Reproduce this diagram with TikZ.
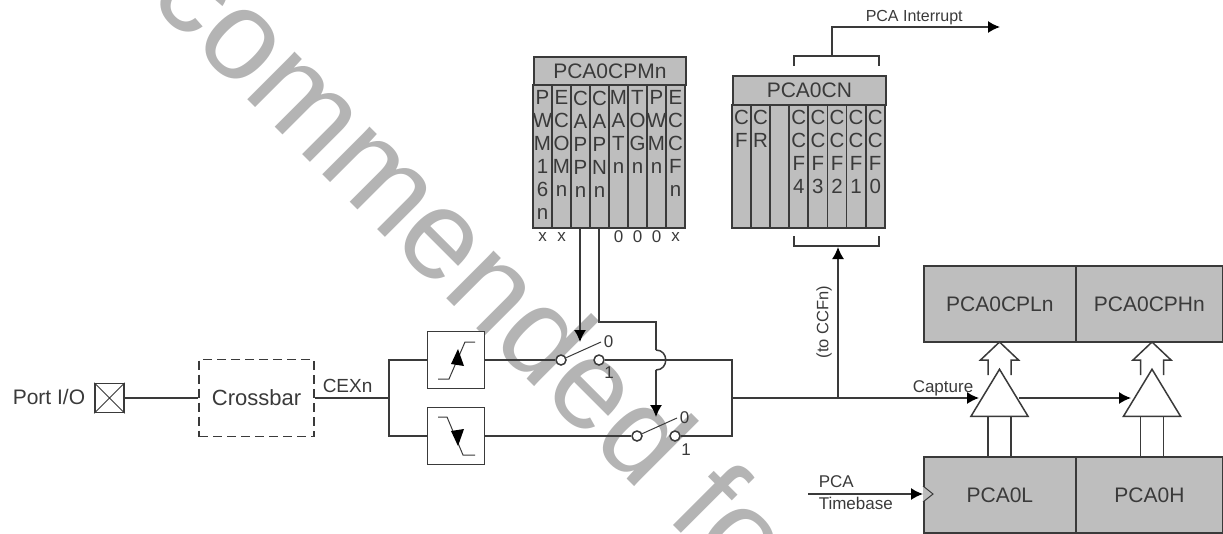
\documentclass[tikz,border=0pt]{standalone}
\usepackage{fontspec}
\setmainfont{Liberation Sans}
\usetikzlibrary{positioning,arrows.meta,calc,shapes.geometric}
\definecolor{regfill}{HTML}{BEBEBE}
\definecolor{wire}{HTML}{3A3A3A}
\definecolor{stamp}{HTML}{B4B4B4}

\begin{document}
\begin{tikzpicture}[
  x=1pt,y=-1pt,
  line width=1.5pt,draw=wire,
  lbl/.style={text=wire,inner sep=0pt,font=\fontsize{21}{23}\selectfont},
  small/.style={text=wire,inner sep=0pt,font=\fontsize{17}{19}\selectfont},
  reghead/.style={draw=wire,line width=1.8pt,fill=regfill,anchor=north west,inner sep=0pt,text=wire,font=\fontsize{21}{23}\selectfont},
  regcol/.style={draw=wire,line width=1.8pt,fill=regfill,anchor=north,minimum width=19,minimum height=143,inner sep=0pt},
  coltxt/.style={anchor=north,align=center,text=wire,inner sep=0pt,font=\fontsize{20.5}{23}\selectfont},
  edgebox/.style={draw=wire,fill=white,minimum size=57,inner sep=0pt},
  contact/.style={draw=wire,fill=white,circle,minimum size=10,inner sep=0pt},
  gate/.style={draw=wire,fill=white,isosceles triangle,isosceles triangle stretches,shape border rotate=90,minimum width=57,minimum height=47,inner sep=0pt,anchor=lower side},
  arr/.style={-{Latex[length=12pt,width=12pt,color=black]},draw=wire}
]
\useasboundingbox (0,0) rectangle (1223,533);
% grey stamp lies under the drawing
\node[text=stamp,rotate=-45,anchor=base west,inner sep=0pt,font=\fontsize{127}{127}\selectfont] (stamptext) at (146,-2) {commended fo};

% left side
\node[lbl,anchor=west] (portlbl) at (12,397) {Port I/O};
\node[draw=wire,minimum size=29,inner sep=0pt] (port) at (109.5,398) {};
\draw[line width=0.9pt] (port.north west) -- (port.south east) (port.north east) -- (port.south west);
\node[draw=wire,line width=1.8pt,dash pattern=on 9pt off 5pt,minimum width=115,minimum height=77,inner sep=0pt,text=wire,font=\fontsize{22}{24}\selectfont] (cross) at (256.5,398) {Crossbar};
\node[lbl,font=\fontsize{19}{21}\selectfont,anchor=west] (cexlbl) at (322,386) {CEXn};
\coordinate (cexj) at (389,398);
\draw (port) -- (cross);
\draw (cross) -- (cexj);

% edge boxes
\node[edgebox] (rise) at (456,360) {};
\node[edgebox] (fall) at (456,436) {};
\draw (cexj) |- (rise);
\draw (cexj) |- (fall);
\draw[line width=1pt] (438,379) -- (449,379) -- (465,342) -- (475,342);
\draw[line width=1pt] (438,417) -- (447,417) -- (463,455) -- (475,455);
\fill[black] (458,349) -- (464,366) -- (451,364) -- cycle;
\fill[black] (458,446) -- (464,429) -- (451,431) -- cycle;

% switches
\node[contact] (swaa) at (561,360) {};
\node[contact] (swab) at (599,360) {};
\node[contact] (swba) at (637,436) {};
\node[contact] (swbb) at (675,436) {};
\coordinate (swat) at (601,342);
\coordinate (swbt) at (677,418);
\node[small,right=2pt of swat] (swao) {0};
\node[small] (swai) at (609,373) {1};
\node[small,right=2pt of swbt] (swbo) {0};
\node[small] (swbi) at (686,450) {1};
\draw[line width=1pt] (swaa) -- (swat);
\draw[line width=1pt] (swba) -- (swbt);
\coordinate (mergej) at (732,398);
\draw (rise) -- (swaa);
\draw (fall) -- (swba);
\draw (swab) -| (mergej);
\draw (swbb) -| (mergej);

% PCA0CPMn
\node[reghead,minimum width=152,minimum height=28] (cpmhead) at (533,56) {PCA0CPMn};
\foreach \i/\txt in {0/{P\\W\\M\\1\\6\\n},1/{E\\C\\O\\M\\n},2/{C\\A\\P\\P\\n},3/{C\\A\\P\\N\\n},4/{M\\A\\T\\n},5/{T\\O\\G\\n},6/{P\\W\\M\\n},7/{E\\C\\C\\F\\n}} {
  \node[regcol] (cpm\i) at (542.5+19*\i,84) {};
  \node[coltxt] (cpmt\i) at (542.5+19*\i,90) {\txt};
}
\foreach \i/\txt in {0/x,1/x,4/0,5/0,6/0,7/x}
  \node[small] (cpmv\i) at (542.5+19*\i,237) {\txt};

% PCA0CN
\node[reghead,minimum width=153,minimum height=29] (cnhead) at (732,75) {PCA0CN};
\foreach \i/\txt in {0/{C\\F},1/{C\\R},2/{},3/{C\\C\\F\\4},4/{C\\C\\F\\3},5/{C\\C\\F\\2},6/{C\\C\\F\\1},7/{C\\C\\F\\0}} {
  \node[regcol,minimum width=19.1,minimum height=123] (cn\i) at (741.5+19.1*\i,104) {};
  \node[coltxt] (cnt\i) at (741.5+19.1*\i,109) {\txt};
}
\draw (794,66) -- (794,56) -- (879,56) -- (879,66);
\draw (794,236) -- (794,246) -- (879,246) -- (879,236);
\coordinate (brtop) at (832,56);
\coordinate (brbot) at (838,247);
\coordinate (intend) at (1000,27);
\draw[arr] (brtop) |- (intend);
\node[small,font=\fontsize{16}{18}\selectfont,anchor=west] (intlbl) at (865,18) {PCA Interrupt};

% mode wires
\coordinate (hopa) at (656,350);
\coordinate (hopb) at (656,370);
\coordinate (swain) at (580,342);
\coordinate (swbin) at (656,417);
\coordinate (cpmout) at (599,322);
\draw[arr] (cpm2.south -| 580,0) -- (swain);
\draw (cpm3.south -| 599,0) -- (cpmout) -| (hopa);
\draw (hopa) .. controls (669,350) and (669,370) .. (hopb);
\draw[arr] (hopb) -- (swbin);

% registers
\node[reghead,minimum width=152,minimum height=76] (cpl) at (923,265) {PCA0CPLn};
\node[reghead,minimum width=147,minimum height=76] (cph) at (1075,265) {PCA0CPHn};
\node[reghead,minimum width=152,minimum height=76] (pcal) at (923,456) {PCA0L};
\node[reghead,minimum width=147,minimum height=76] (pcah) at (1075,456) {PCA0H};
\draw[line width=1pt,fill=regfill] (pcal.west |- 0,486) -- (933,494) -- (pcal.west |- 0,502);

% capture gates and hollow arrows
\foreach \n/\g in {a/999.5,b/1152} {
  \draw[fill=white] (\g-11.5,375) -- (\g-11.5,360) -- (\g-19,360) -- (\g,342) -- (\g+19,360) -- (\g+11.5,360) -- (\g+11.5,375);
  \draw (\g-11.5,417) -- (\g-11.5,456) (\g+11.5,417) -- (\g+11.5,456);
  \node[gate] (gate\n) at (\g,417) {};
}

% capture path
\coordinate (capj) at (838,398);
\coordinate (capa) at (979,398);
\coordinate (capb) at (1019,398);
\coordinate (capc) at (1131,398);
\draw (mergej) -- (capj);
\draw[arr] (capj) -- (capa);
\draw[arr] (capb) -- (capc);
\draw[arr] (capj) -- (brbot);
\node[small,font=\fontsize{16.5}{18}\selectfont,rotate=90] (ccflbl) at (824,322) {(to CCFn)};
\node[small,anchor=west] (caplbl) at (912,388) {Capture};

% timebase
\coordinate (tbstart) at (808,494);
\draw[arr] (tbstart) -- (pcal.west |- tbstart);
\node[small,anchor=west] (tblbla) at (818,482) {PCA};
\node[small,anchor=west] (tblblb) at (818,503) {Timebase};
\end{tikzpicture}
\end{document}
